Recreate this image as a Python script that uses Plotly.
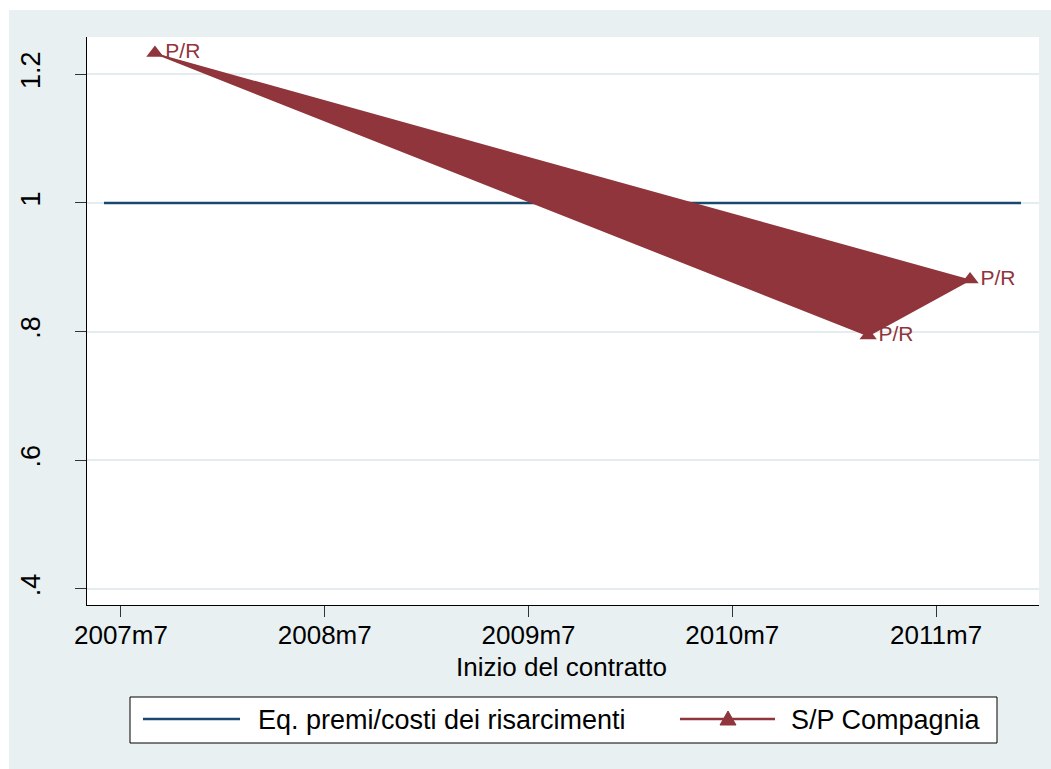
import plotly.graph_objects as go

# Stata-style monthly dates: months since 1960m1 (2007m7 = 570)
eq_months = [569, 623]
eq_values = [1.0, 1.0]

sp_months = [572, 614, 620]
sp_values = [1.233, 0.794, 0.881]
sp_labels = ["P/R", "P/R", "P/R"]

x_tickvals = [570, 582, 594, 606, 618]
x_ticktext = ["2007m7", "2008m7", "2009m7", "2010m7", "2011m7"]
y_tickvals = [0.4, 0.6, 0.8, 1.0, 1.2]
y_ticktext = [".4", ".6", ".8", "1", "1.2"]

NAVY = "#1a476f"
MAROON = "#90353b"
BG = "#e8f0f2"
GRID = "#e3ecef"
FONT = "Liberation Sans, Arial, sans-serif"
FS = 27

W, H = 1051, 769
L, R, T, B = 87, 12, 37, 164
PW, PH = W - L - R, H - T - B


def px(x):
    return (x - L) / PW


def py(y):
    return (H - B - y) / PH


fig = go.Figure()

fig.add_trace(go.Scatter(
    x=eq_months, y=eq_values, mode="lines",
    line=dict(color=NAVY, width=2.5),
    name="Eq. premi/costi dei risarcimenti", showlegend=False,
))

fig.add_trace(go.Scatter(
    x=sp_months, y=sp_values, mode="lines+markers+text",
    fill="toself", fillcolor=MAROON,
    line=dict(color=MAROON, width=2),
    marker=dict(symbol="triangle-up", size=15, color=MAROON),
    text=sp_labels, textposition="middle right",
    textfont=dict(family=FONT, size=21, color=MAROON),
    name="S/P Compagnia", showlegend=False,
))

shapes = [
    # white strips outside the graph region
    dict(type="rect", xref="paper", yref="paper", x0=px(0), x1=px(W),
         y0=py(10), y1=py(0), fillcolor="white", line_width=0, layer="above"),
    dict(type="rect", xref="paper", yref="paper", x0=px(0), x1=px(9),
         y0=py(H), y1=py(0), fillcolor="white", line_width=0, layer="above"),
    # legend frame
    dict(type="rect", xref="paper", yref="paper", x0=px(130), x1=px(997),
         y0=py(743), y1=py(697), fillcolor="white",
         line=dict(color="black", width=1)),
    # legend keys
    dict(type="line", xref="paper", yref="paper", x0=px(143), x1=px(240),
         y0=py(719), y1=py(719), line=dict(color=NAVY, width=2.5)),
    dict(type="line", xref="paper", yref="paper", x0=px(680), x1=px(775),
         y0=py(719), y1=py(719), line=dict(color=MAROON, width=2.5)),
    dict(type="path", xref="paper", yref="paper",
         path="M {a},{b} L {c},{b} L {d},{e} Z".format(
             a=px(720), c=px(736), b=py(725), d=px(728), e=py(711)),
         fillcolor=MAROON, line=dict(color=MAROON, width=1)),
]

annotations = [
    dict(text="Inizio del contratto", xref="paper", yref="paper",
         x=px(561), y=py(667), xanchor="center", yanchor="middle",
         showarrow=False, font=dict(family=FONT, size=26, color="black")),
    dict(text="Eq. premi/costi dei risarcimenti", xref="paper", yref="paper",
         x=px(256), y=py(720), xanchor="left", yanchor="middle",
         showarrow=False, font=dict(family=FONT, size=FS, color="black")),
    dict(text="S/P Compagnia", xref="paper", yref="paper",
         x=px(789), y=py(720), xanchor="left", yanchor="middle",
         showarrow=False, font=dict(family=FONT, size=FS, color="black")),
]

fig.update_layout(
    width=W, height=H,
    margin=dict(l=L, r=R, t=T, b=B, pad=0),
    paper_bgcolor=BG, plot_bgcolor="white",
    font=dict(family=FONT, size=FS, color="black"),
    shapes=shapes, annotations=annotations,
    xaxis=dict(
        range=[568, 624.06], tickvals=x_tickvals, ticktext=x_ticktext,
        showgrid=False, zeroline=False,
        showline=True, linecolor="black", linewidth=1,
        ticks="outside", ticklen=11, tickcolor="#333333", tickwidth=1,
        tickfont=dict(size=26), ticklabelstandoff=-4,
    ),
    yaxis=dict(
        range=[0.375, 1.258], tickvals=y_tickvals, ticktext=y_ticktext,
        showgrid=True, gridcolor=GRID, gridwidth=2, zeroline=False,
        showline=True, linecolor="black", linewidth=1,
        ticks="outside", ticklen=11, tickcolor="#333333", tickwidth=1,
        tickangle=-90, tickfont=dict(size=FS), ticklabelstandoff=24,
    ),
)

fig.write_html("out.html")
